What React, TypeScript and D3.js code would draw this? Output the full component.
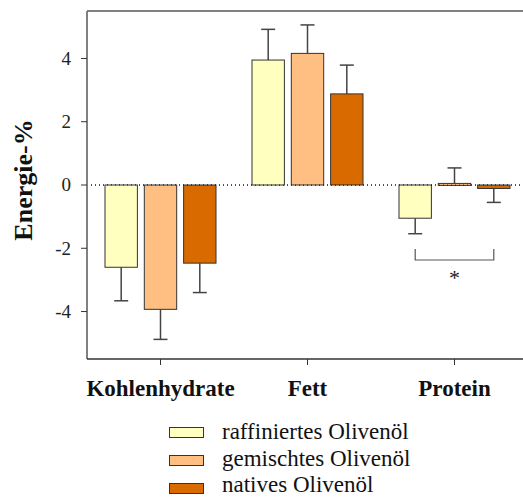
import { scaleBand, scaleLinear } from "d3";

// Kategorien und Serien
const categories = ["Kohlenhydrate", "Fett", "Protein"];
const seriesNames = ["raffiniertes Olivenöl", "gemischtes Olivenöl", "natives Olivenöl"];
const seriesColors = ["#FFFFC0", "#FFBF82", "#D96A00"];

// Mittelwerte pro Serie (Energie-%)
const raffiniert = [-2.6, 3.95, -1.05];
const gemischt = [-3.93, 4.16, 0.05];
const nativ = [-2.47, 2.88, -0.11];

// Fehlerbalken (äußeres Ende)
const raffiniertErr = [-3.66, 4.92, -1.54];
const gemischtErr = [-4.88, 5.06, 0.54];
const nativErr = [-3.4, 3.79, -0.55];

const yTicks = [-4, -2, 0, 2, 4];

const values = [raffiniert, gemischt, nativ];
const errors = [raffiniertErr, gemischtErr, nativErr];

const W = 523;
const H = 497;
const left = 87;
const top = 11;
const bottom = 359;

const font = "'Liberation Serif', 'Times New Roman', serif";

export default function App() {
  const x0 = scaleBand<string>().domain(categories).range([left, 528]);
  const x1 = scaleBand<string>().domain(seriesNames).range([18, 129]).paddingInner(0.176);
  const y = scaleLinear().domain([-5.5, 5.5]).range([bottom, top]);

  const bw = x1.bandwidth();

  // Signifikanz-Klammer zwischen raffiniert und nativ bei Protein
  const pX = x0("Protein")!;
  const brLeft = pX + x1(seriesNames[0])! + bw / 2;
  const brRight = pX + x1(seriesNames[2])! + bw / 2;
  const brY = y(-2.37);

  return (
    <svg width={W} height={H} style={{ position: "absolute", left: 0, top: 0, background: "#fff" }} fontFamily={font}>
      {/* Nulllinie gepunktet */}
      <line x1={left} x2={W} y1={y(0)} y2={y(0)} stroke="#000" strokeWidth={1} strokeDasharray="1,3" />

      {/* Balken */}
      {categories.map((c, ci) => (
        <g key={c} transform={`translate(${x0(c)},0)`}>
          {seriesNames.map((s, si) => {
            const v = values[si][ci];
            const e = errors[si][ci];
            const bx = x1(s)!;
            const cx = bx + bw / 2;
            return (
              <g key={s}>
                <line x1={cx} x2={cx} y1={y(v)} y2={y(e)} stroke="#444" strokeWidth={1.5} />
                <line x1={cx - 7} x2={cx + 7} y1={y(e)} y2={y(e)} stroke="#444" strokeWidth={1.5} />
                <rect
                  x={bx}
                  y={Math.min(y(v), y(0))}
                  width={bw}
                  height={Math.max(Math.abs(y(v) - y(0)), 2)}
                  fill={seriesColors[si]}
                  stroke="#333"
                  strokeWidth={1}
                />
              </g>
            );
          })}
        </g>
      ))}
      {/* Punkte der Nulllinie über den Balken */}
      <line x1={left} x2={W} y1={y(0)} y2={y(0)} stroke="#000" strokeWidth={1} strokeDasharray="1,3" opacity={0.7} />

      {/* Achsen */}
      <line x1={left} x2={W} y1={top} y2={top} stroke="#808080" strokeWidth={2} />
      <line x1={left} x2={left} y1={top} y2={bottom} stroke="#808080" strokeWidth={2} />
      <line x1={left} x2={W} y1={bottom} y2={bottom} stroke="#333" strokeWidth={1.5} />

      {yTicks.map((t) => (
        <g key={t}>
          <line x1={left - 6} x2={left} y1={y(t)} y2={y(t)} stroke="#333" strokeWidth={1} />
          <text x={71} y={y(t)} dy="0.34em" textAnchor="end" fontSize={19} fill="#222">
            {t}
          </text>
        </g>
      ))}

      {categories.map((c) => {
        const cx = x0(c)! + x0.bandwidth() / 2;
        return (
          <g key={c}>
            <line x1={cx} x2={cx} y1={bottom} y2={bottom + 6} stroke="#333" strokeWidth={1} />
            <text x={cx} y={396} textAnchor="middle" fontSize={23} fontWeight="bold" fill="#111">
              {c}
            </text>
          </g>
        );
      })}

      <text transform="translate(32,180) rotate(-90)" textAnchor="middle" fontSize={26} fontWeight="bold" fill="#111">
        Energie-%
      </text>

      {/* Signifikanz */}
      <path
        d={`M${brLeft},${brY - 11}V${brY}H${brRight}V${brY - 11}`}
        fill="none"
        stroke="#555"
        strokeWidth={1.2}
      />
      <text x={(brLeft + brRight) / 2} y={brY + 25} textAnchor="middle" fontSize={22} fill="#222">
        *
      </text>

      {/* Legende */}
      {seriesNames.map((s, i) => (
        <g key={s}>
          <rect x={169.5} y={427.5 + i * 28} width={34} height={10} fill={seriesColors[i]} stroke="#333" strokeWidth={1} />
          <text x={222} y={439 + i * 26.5} fontSize={23} fill="#111">
            {s}
          </text>
        </g>
      ))}
    </svg>
  );
}
